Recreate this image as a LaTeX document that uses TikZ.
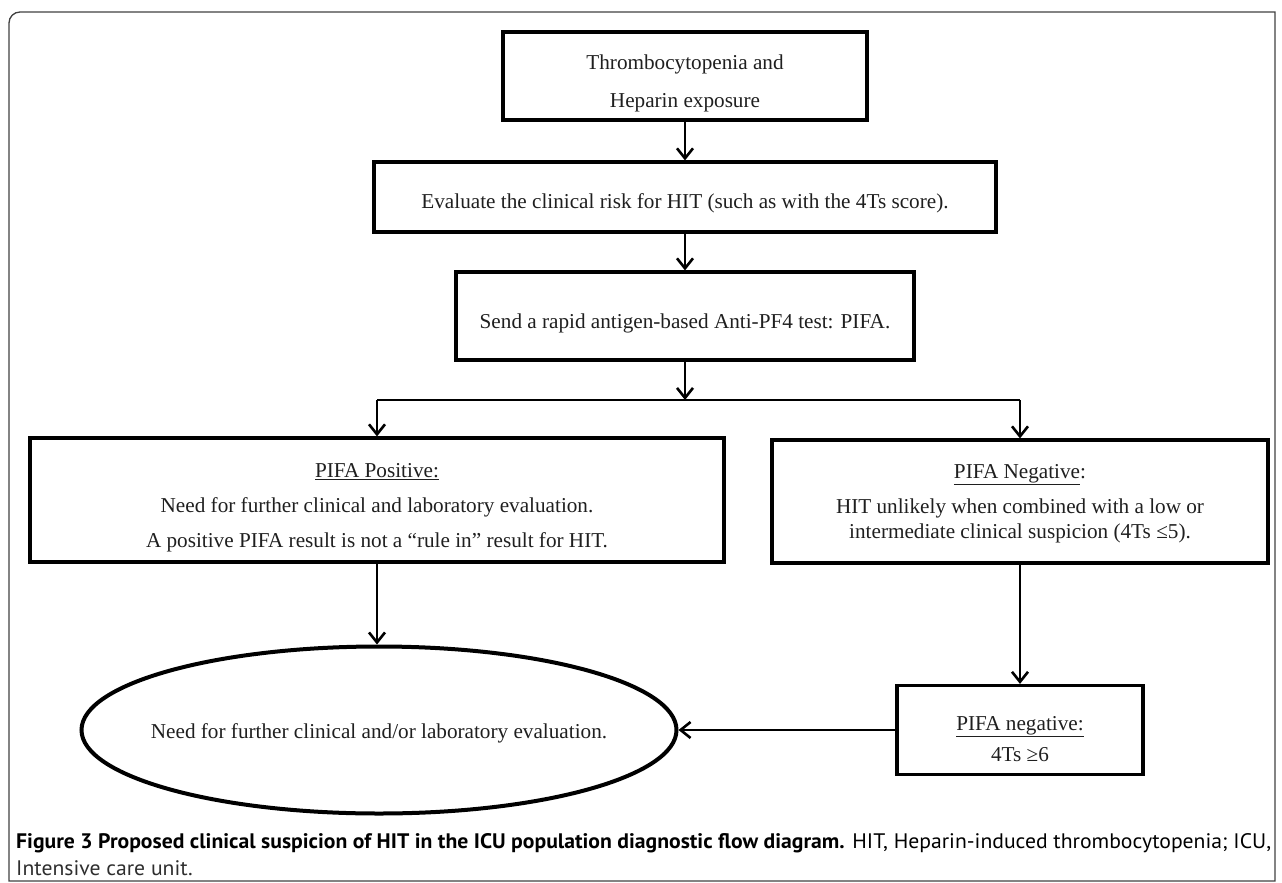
\documentclass[tikz,border=0pt]{standalone}
\usepackage{fontspec}
\setmainfont{Liberation Serif}
\newfontfamily\capfont{PT Sans}
\usepackage{graphicx}
\usetikzlibrary{arrows.meta,shapes.geometric,calc}
\newsavebox\caponebox
\newdimen\capwd
\newcommand{\lowerby}[2]{\raisebox{-#1}[\height][\depth]{#2}}
\begin{document}
\sbox\caponebox{\capfont\fontsize{21}{25}\selectfont\textbf{Figure 3 Proposed clinical suspicion of HIT in the ICU population diagnostic flow diagram.} HIT, Heparin-induced thrombocytopenia; ICU,}%
\capwd=\wd\caponebox
\pgfmathsetmacro\capsc{1255/\capwd}%
\begin{tikzpicture}[x=1pt,y=-1pt,
  box/.style={draw=black, line width=3.2pt, rectangle, inner sep=0pt,
    font=\fontsize{21.2}{25.4}\selectfont, text=black!88, align=center},
  conn/.style={draw=black, line width=2.6pt,
    -{Straight Barb[length=10pt,width=16pt]}},
  plain/.style={draw=black, line width=2.6pt},
  frame/.style={draw=black!75, line width=1.3pt},
  captext/.style={anchor=west, inner sep=0pt, text=black!82}
]
\useasboundingbox (0,0) rectangle (1282,883);

% outer frame
\draw[frame] (1275,12) [rounded corners=11pt] -- (9,12) [sharp corners] -- (9,881)
  -- (1275,881) [sharp corners] -- cycle;

% boxes
\node[box, minimum width=364pt, minimum height=88pt] (b1) at (685,76)
  {\lowerby{7pt}{\begin{tabular}{@{}c@{}}Thrombocytopenia and\\[12.6pt]Heparin exposure\end{tabular}}};
\node[box, minimum width=622pt, minimum height=70pt] (b2) at (685,197)
  {\lowerby{6pt}{Evaluate the clinical risk for HIT (such as with the 4Ts score).}};
\node[box, minimum width=458pt, minimum height=88pt] (b3) at (685,316)
  {\lowerby{7pt}{Send a rapid antigen-based Anti-PF4 test: PIFA.}};
\node[box, minimum width=694pt, minimum height=124pt] (b4) at (377,500)
  {\lowerby{7pt}{\begin{tabular}{@{}c@{}}\underline{PIFA Positive:}\\[9.6pt]Need for further clinical and laboratory evaluation.\\[9.6pt]A positive PIFA result is not a “rule in” result for HIT.\end{tabular}}};
\node[box, minimum width=496pt, minimum height=123pt] (b5) at (1020,501.5)
  {\lowerby{2pt}{\begin{tabular}{@{}c@{}}\underline{PIFA Negative}:\\[9.6pt]HIT unlikely when combined with a low or\\intermediate clinical suspicion (4Ts ≤5).\end{tabular}}};
\node[box, minimum width=246pt, minimum height=89pt] (b6) at (1020,730)
  {\lowerby{11pt}{\begin{tabular}{@{}c@{}}\underline{PIFA negative:}\\[5.6pt]4Ts ≥6\end{tabular}}};
\node[box, ellipse, line width=4pt, minimum width=595pt, minimum height=167pt] (ell) at (379,730)
  {\lowerby{3pt}{\makebox[0pt][c]{Need for further clinical and/or laboratory evaluation.}}};

% connectors
\coordinate (split) at (685,400);
\draw[conn] (b1.south) -- (b2.north);
\draw[conn] (b2.south) -- (b3.north);
\draw[conn] (b3.south) -- (split);
\draw[plain] (split) -- (377,400);
\draw[plain] (split) -- (1020,400);
\draw[conn] (split -| b4.north) -- (b4.north);
\draw[conn] (split -| b5.north) -- (b5.north);
\draw[conn] (b4.south) -- (b4.south |- ell.north);
\draw[conn] (b5.south) -- (b6.north);
\draw[conn] (b6.west) -- (ell.east);

% caption
\node[captext] (cap1) at (16,843) {\scalebox{\capsc}[1]{\usebox\caponebox}};
\node[captext] (cap2) at (16,868) {\scalebox{\capsc}[1]{\capfont\fontsize{21}{25}\selectfont Intensive care unit.}};
\end{tikzpicture}
\end{document}
